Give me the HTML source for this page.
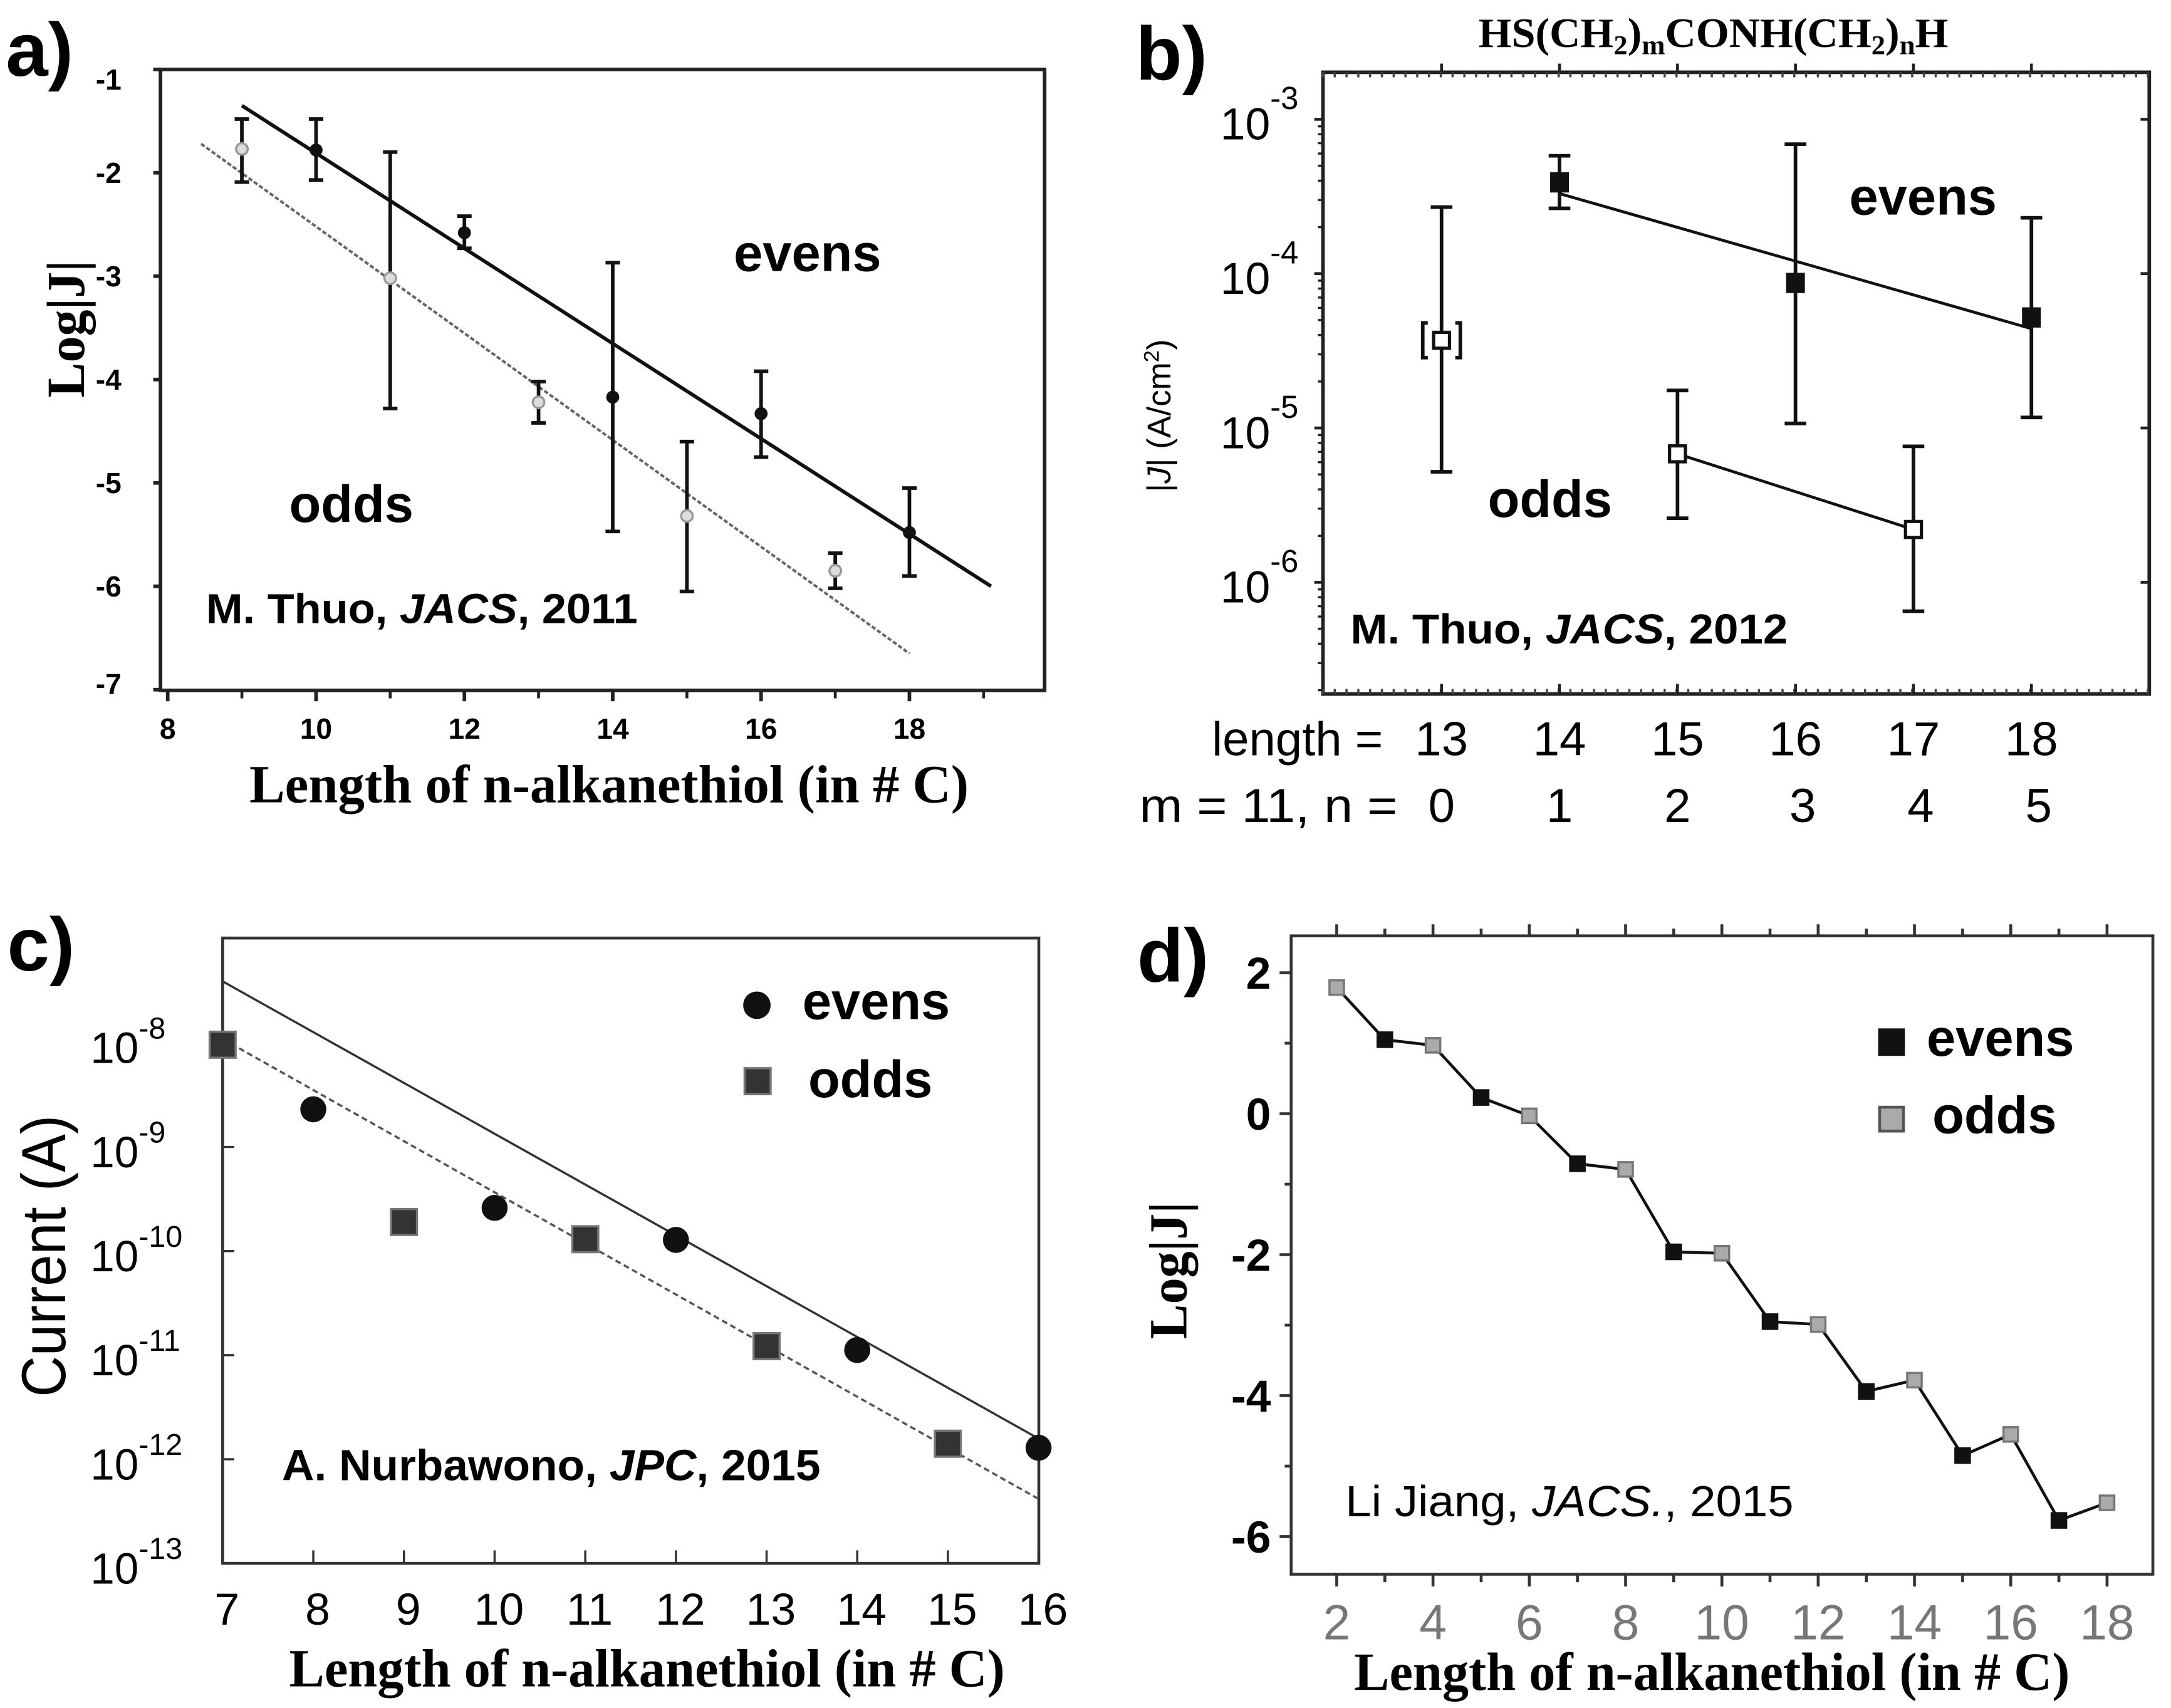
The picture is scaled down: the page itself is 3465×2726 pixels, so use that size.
<!DOCTYPE html>
<html><head><meta charset="utf-8">
<style>
html,body{margin:0;padding:0;background:#fff;}
svg{display:block;}
</style></head>
<body>
<svg id="fig" width="3465" height="2726" viewBox="0 0 3465 2726" xmlns="http://www.w3.org/2000/svg" font-family="Liberation Sans, sans-serif">
<rect x="0" y="0" width="3465" height="2726" fill="#fff"/>
<!-- Panel a -->
<g id="pa" transform="translate(0,0) scale(1.1538)">
  <text x="8" y="105" font-size="105" font-weight="bold">a)</text>
  <rect x="222" y="96" width="1223" height="859" fill="none" stroke="#222" stroke-width="5"/>
  <g id="pa-marks"></g>
  <text x="1015" y="375" font-size="72" font-weight="bold">evens</text>
  <text x="400" y="722" font-size="72" font-weight="bold">odds</text>
  <text x="285" y="862" font-size="58" font-weight="bold" textLength="597" lengthAdjust="spacingAndGlyphs">M. Thuo, <tspan font-style="italic">JACS</tspan>, 2011</text>
  <text transform="translate(116,455) rotate(-90)" text-anchor="middle" font-family="Liberation Serif, serif" font-weight="bold" font-size="74" textLength="190" lengthAdjust="spacingAndGlyphs">Log|J|</text>
  <text x="345" y="1110" font-family="Liberation Serif, serif" font-weight="bold" font-size="74" textLength="995" lengthAdjust="spacingAndGlyphs">Length of n-alkanethiol (in # C)</text>
</g>
<!-- Panel b -->
<g id="pb" transform="translate(1665,0) scale(1.1538)">
  <text x="128" y="110" font-size="105" font-weight="bold">b)</text>
  <text x="602" y="65" font-family="Liberation Serif, serif" font-weight="bold" font-size="58" textLength="650" lengthAdjust="spacingAndGlyphs">HS(CH<tspan font-size="38" dy="10">2</tspan><tspan dy="-10">)</tspan><tspan font-size="38" dy="10">m</tspan><tspan dy="-10">CONH(CH</tspan><tspan font-size="38" dy="10">2</tspan><tspan dy="-10">)</tspan><tspan font-size="38" dy="10">n</tspan><tspan dy="-10">H</tspan></text>
  <rect x="387" y="100" width="1143" height="860" fill="none" stroke="#222" stroke-width="5"/>
  <g id="pb-marks"></g>
  <text x="1115" y="297" font-size="72" font-weight="bold">evens</text>
  <text x="615" y="715" font-size="72" font-weight="bold">odds</text>
  <text x="425" y="890" font-size="58" font-weight="bold" textLength="605" lengthAdjust="spacingAndGlyphs">M. Thuo, <tspan font-style="italic">JACS</tspan>, 2012</text>
  <text transform="translate(176,575) rotate(-90)" text-anchor="middle" font-size="46">|<tspan font-style="italic">J</tspan>| (A/cm<tspan font-size="30" dy="-16">2</tspan><tspan dy="16">)</tspan></text>
  <text x="470" y="1045" text-anchor="end" font-size="66">length =</text>
  <text x="133" y="1137" font-size="66" textLength="357" lengthAdjust="spacingAndGlyphs">m = 11, n =</text>
</g>
<!-- Panel c -->
<g id="pc" transform="translate(0,926) scale(1.1538)">
  <text x="10" y="540" font-size="105" font-weight="bold">c)</text>
  <rect x="308" y="495" width="1129" height="865" fill="none" stroke="#333" stroke-width="4"/>
  <g id="pc-marks"></g>
  <circle cx="1047" cy="588" r="19" fill="#111"/>
  <text x="1110" y="607" font-size="72" font-weight="bold">evens</text>
  <rect x="1030" y="675" width="36" height="36" fill="#333" stroke="#777" stroke-width="3"/>
  <text x="1118" y="715" font-size="72" font-weight="bold">odds</text>
  <text x="390" y="1245" font-size="60" font-weight="bold" textLength="745" lengthAdjust="spacingAndGlyphs">A. Nurbawono, <tspan font-style="italic">JPC</tspan>, 2015</text>
  <text transform="translate(90,935) rotate(-90)" text-anchor="middle" font-size="86" textLength="390" lengthAdjust="spacingAndGlyphs">Current (A)</text>
  <text x="400" y="1530" font-family="Liberation Serif, serif" font-weight="bold" font-size="74" textLength="990" lengthAdjust="spacingAndGlyphs">Length of n-alkanethiol (in # C)</text>
</g>
<!-- Panel d -->
<g id="pd" transform="translate(1665,926) scale(1.1538)">
  <text x="130" y="555" font-size="105" font-weight="bold">d)</text>
  <rect x="343" y="492" width="1192" height="883" fill="none" stroke="#333" stroke-width="4"/>
  <g id="pd-marks"></g>
  <rect x="1155" y="620" width="37" height="38" fill="#111"/>
  <text x="1222" y="658" font-size="72" font-weight="bold">evens</text>
  <rect x="1157" y="729" width="33" height="33" fill="#aaa" stroke="#555" stroke-width="4"/>
  <text x="1230" y="765" font-size="72" font-weight="bold">odds</text>
  <text x="418" y="1295" font-size="60" textLength="620" lengthAdjust="spacingAndGlyphs">Li Jiang, <tspan font-style="italic">JACS.</tspan>, 2015</text>
  <text transform="translate(198,955) rotate(-90)" text-anchor="middle" font-family="Liberation Serif, serif" font-weight="bold" font-size="74" textLength="190" lengthAdjust="spacingAndGlyphs">Log|J|</text>
  <text x="430" y="1535" font-family="Liberation Serif, serif" font-weight="bold" font-size="74" textLength="990" lengthAdjust="spacingAndGlyphs">Length of n-alkanethiol (in # C)</text>
</g>
</svg>
<script>
// ---- Panel a data ----
const aXTicks=[8,10,12,14,16,18];
const aYTicks=[-1,-2,-3,-4,-5,-6,-7];
const aEvenX=[10,12,14,16,18];
const aEvenY=[-1.78,-2.58,-4.17,-4.33,-5.48];
const aEvenHi=[-1.48,-2.42,-2.87,-3.92,-5.05];
const aEvenLo=[-2.07,-2.73,-5.47,-4.75,-5.9];
const aOddX=[9,11,13,15,17];
const aOddY=[-1.77,-3.02,-4.22,-5.32,-5.85];
const aOddHi=[-1.48,-1.8,-4.02,-4.6,-5.68];
const aOddLo=[-2.09,-4.28,-4.42,-6.05,-6.02];
const aEvenFitX=[9,19.1];
const aEvenFitY=[-1.35,-6.0];
const aOddFitX=[8.45,18];
const aOddFitY=[-1.72,-6.65];
// ---- Panel b data ----
const bXTicks=[13,14,15,16,17,18];
const bNLabels=["0","1","2","3","4","5"];
const bYTicks=[-3,-4,-5,-6];
const bEvenX=[14,16,18];
const bEvenY=[3.9e-4,8.7e-5,5.2e-5];
const bEvenHi=[5.8e-4,6.9e-4,2.3e-4];
const bEvenLo=[2.65e-4,1.07e-5,1.17e-5];
const bOddX=[13,15,17];
const bOddY=[3.7e-5,6.8e-6,2.2e-6];
const bOddHi=[2.7e-4,1.75e-5,7.6e-6];
const bOddLo=[5.2e-6,2.6e-6,6.5e-7];
const bEvenFitX=[14,18];
const bEvenFitY=[3.3e-4,4.4e-5];
const bOddFitX=[15,17];
const bOddFitY=[6.8e-6,2.2e-6];
// ---- Panel c data ----
const cXTicks=[7,8,9,10,11,12,13,14,15,16];
const cYTicks=[-8,-9,-10,-11,-12,-13];
const cEvenX=[8,10,12,14,16];
const cEvenY=[2.3e-9,2.6e-10,1.28e-10,1.12e-11,1.29e-12];
const cOddX=[7,9,11,13,15];
const cOddY=[9.6e-9,1.9e-10,1.3e-10,1.22e-11,1.41e-12];
const cEvenFitX=[7,16];
const cEvenFitY=[3.9e-8,1.58e-12];
const cOddFitX=[7,16];
const cOddFitY=[1.09e-8,4.16e-13];
// ---- Panel d data ----
const dXTicks=[2,4,6,8,10,12,14,16,18];
const dYTicks=[2,0,-2,-4,-6];
const dX=[2,3,4,5,6,7,8,9,10,11,12,13,14,15,16,17,18];
const dY=[1.79,1.05,0.97,0.23,-0.03,-0.71,-0.79,-1.96,-1.98,-2.95,-2.99,-3.94,-3.78,-4.85,-4.55,-5.77,-5.52];

const NS="http://www.w3.org/2000/svg";
function mk(tag,parent,attrs){const e=document.createElementNS(NS,tag);for(const k in attrs)e.setAttribute(k,attrs[k]);parent.appendChild(e);return e;}

// ===== Panel a =====
(function(){
const g=document.getElementById('pa-marks');
const X=v=>232+(v-8)*102.6, Y=v=>96+(-1-v)*143;
aXTicks.forEach(t=>{
  const l=mk('line',g,{x1:X(t),x2:X(t),y1:955,y2:970,stroke:'#222','stroke-width':5});
  
  
  const s=mk('text',g,{x:X(t),y:1022,'text-anchor':'middle','font-size':40,'font-weight':'bold','font-family':'Liberation Sans Narrow, Liberation Sans, sans-serif'});
  s.textContent=String(t);
  
  
});
for(let t=9;t<=19;t+=2){const l=mk('line',g,{x1:X(t),x2:X(t),y1:955,y2:966,stroke:'#222','stroke-width':4});
  
  }
aYTicks.forEach(t=>{
  const l=mk('line',g,{x1:212,x2:222,y1:Y(t),y2:Y(t),stroke:'#222','stroke-width':5});
  
  
  const s=mk('text',g,{x:168,y:Y(t)+14+(t==-1?14:0)+(t==-7?-8:0),'text-anchor':'end','font-size':40,'font-weight':'bold','font-family':'Liberation Sans Narrow, Liberation Sans, sans-serif'});
  s.textContent=String(t);
  
  
});
const fe=mk('line',g,{x1:X(aEvenFitX[0]),y1:Y(aEvenFitY[0]),x2:X(aEvenFitX[1]),y2:Y(aEvenFitY[1]),stroke:'#111','stroke-width':5});


const fo=mk('line',g,{x1:X(aOddFitX[0]),y1:Y(aOddFitY[0]),x2:X(aOddFitX[1]),y2:Y(aOddFitY[1]),stroke:'#666','stroke-width':3.5,'stroke-dasharray':'6 3'});


function eb(x,hi,lo,name){
  const p=mk('path',g,{d:`M${X(x)},${Y(hi)}V${Y(lo)}M${X(x)-10},${Y(hi)}h20M${X(x)-10},${Y(lo)}h20`,stroke:'#111','stroke-width':5,fill:'none'});
  
  
}
aEvenX.forEach((x,i)=>{eb(x,aEvenHi[i],aEvenLo[i],'evens-errorbar-a');
  const c=mk('circle',g,{cx:X(x),cy:Y(aEvenY[i]),r:9,fill:'#111'});
  
  });
aOddX.forEach((x,i)=>{eb(x,aOddHi[i],aOddLo[i],'odds-errorbar-a');
  const c=mk('circle',g,{cx:X(x),cy:Y(aOddY[i]),r:8,fill:'#ddd',stroke:'#999','stroke-width':3});
  
  });
})();

// ===== Panel b =====
(function(){
const g=document.getElementById('pb-marks');
const X=v=>551+(v-13)*163.2, Y=v=>165+(-3-Math.log10(v))*213.5, YL=l=>165+(-3-l)*213.5;
for(let x=387;x<=1530;x+=16.3){[[960,953],[100,107]].forEach(([a,b])=>{const l=mk('line',g,{x1:x,x2:x,y1:a,y2:b,stroke:'#444','stroke-width':3});
  
  });}
bXTicks.forEach((t,i)=>{
  [[960,946],[100,88]].forEach(([a,b])=>{const l=mk('line',g,{x1:X(t),x2:X(t),y1:a,y2:b,stroke:'#222','stroke-width':4});
    
    });
  const s=mk('text',g,{x:X(t),y:1045,'text-anchor':'middle','font-size':66});
  s.textContent=String(t);
  
  
  const n=mk('text',g,{x:X(t)+(i>=3?10:0),y:1137,'text-anchor':'middle','font-size':66});
  n.textContent=bNLabels[i];
  
  
});
bYTicks.forEach(t=>{
  [[387,375],[1530,1518]].forEach(([a,b])=>{const l=mk('line',g,{x1:a,x2:b,y1:YL(t),y2:YL(t),stroke:'#222','stroke-width':4});
    
    });
  for(let m=2;m<=9;m++){const yy=YL(t-1+Math.log10(m));if(yy>960)continue;
    const l=mk('line',g,{x1:387,x2:380,y1:yy,y2:yy,stroke:'#222','stroke-width':3});
    
    }
  const s=mk('text',g,{x:245,y:YL(t)+28,'font-size':62});
  s.textContent='10';
  
  
  const sp=mk('tspan',s,{dy:-42,'font-size':44});
  sp.textContent=String(t);
});
const fe=mk('line',g,{x1:X(bEvenFitX[0]),y1:Y(bEvenFitY[0]),x2:X(bEvenFitX[1]),y2:Y(bEvenFitY[1]),stroke:'#111','stroke-width':4});


const fo=mk('line',g,{x1:X(bOddFitX[0]),y1:Y(bOddFitY[0]),x2:X(bOddFitX[1]),y2:Y(bOddFitY[1]),stroke:'#111','stroke-width':4});


function eb(x,hi,lo,name){
  const p=mk('path',g,{d:`M${X(x)},${Y(hi)}V${Y(lo)}M${X(x)-15},${Y(hi)}h30M${X(x)-15},${Y(lo)}h30`,stroke:'#111','stroke-width':5,fill:'none'});
  
  
}
bEvenX.forEach((x,i)=>{eb(x,bEvenHi[i],bEvenLo[i],'evens-errorbar-b');
  const r=mk('rect',g,{x:X(x)-13,y:Y(bEvenY[i])-14,width:26,height:28,fill:'#111'});
  
  });
bOddX.forEach((x,i)=>{eb(x,bOddHi[i],bOddLo[i],'odds-errorbar-b');
  const r=mk('rect',g,{x:X(x)-11,y:Y(bOddY[i])-11,width:22,height:22,fill:'#fff',stroke:'#111','stroke-width':4.5});
  
  
  if(i===0){const b=mk('path',g,{d:`M${X(x)-19},${Y(bOddY[i])-24}h-7v48h7M${X(x)+19},${Y(bOddY[i])-24}h7v48h-7`,stroke:'#111','stroke-width':5,fill:'none'});
    
    }
});
})();

// ===== Panel c =====
(function(){
const g=document.getElementById('pc-marks');
const X=v=>308+(v-7)*125.4, Y=v=>640+(-8-Math.log10(v))*144, YL=l=>640+(-8-l)*144;
cXTicks.forEach(t=>{
  const l=mk('line',g,{x1:X(t),x2:X(t),y1:1360,y2:1342,stroke:'#333','stroke-width':3});
  
  
  const s=mk('text',g,{x:X(t)+6,y:1445,'text-anchor':'middle','font-size':62});
  s.textContent=String(t);
  
  
});
cYTicks.forEach(t=>{
  const l=mk('line',g,{x1:308,x2:324,y1:YL(t),y2:YL(t),stroke:'#333','stroke-width':3});
  
  
  const s=mk('text',g,{x:125,y:YL(t)+28,'font-size':60});
  s.textContent='10';
  
  
  const sp=mk('tspan',s,{dy:-34,'font-size':42});
  sp.textContent=String(t);
});
const fe=mk('line',g,{x1:X(cEvenFitX[0]),y1:Y(cEvenFitY[0]),x2:X(cEvenFitX[1]),y2:Y(cEvenFitY[1]),stroke:'#333','stroke-width':3});


const fo=mk('line',g,{x1:X(cOddFitX[0]),y1:Y(cOddFitY[0]),x2:X(cOddFitX[1]),y2:Y(cOddFitY[1]),stroke:'#555','stroke-width':3,'stroke-dasharray':'8 5'});


cEvenX.forEach((x,i)=>{
  const c=mk('circle',g,{cx:X(x),cy:Y(cEvenY[i]),r:18,fill:'#111'});
  
  });
cOddX.forEach((x,i)=>{
  const r=mk('rect',g,{x:X(x)-18,y:Y(cOddY[i])-18,width:36,height:36,fill:'#333',stroke:'#777','stroke-width':3});
  
  });
})();

// ===== Panel d =====
(function(){
const g=document.getElementById('pd-marks');
const X=v=>406+(v-2)*66.6, Y=v=>738-v*97.5;
for(let t=1;t<=19;t++){const big=t%2===0;
  if(X(t)<343||X(t)>1535)continue;
  [[1375,big?1392:1386],[492,big?476:482]].forEach(([a,b])=>{const l=mk('line',g,{x1:X(t),x2:X(t),y1:a,y2:b,stroke:'#333','stroke-width':4});
    
    });}
dXTicks.forEach(t=>{
  const s=mk('text',g,{x:X(t),y:1465,'text-anchor':'middle','font-size':68,'fill':'#777'});
  s.textContent=String(t);
  
  
});
for(let t=-6;t<=2;t++){const big=t%2===0;
  const l=mk('line',g,{x1:343,x2:big?327:334,y1:Y(t),y2:Y(t),stroke:'#333','stroke-width':4});
  
  }
dYTicks.forEach(t=>{
  const s=mk('text',g,{x:315,y:Y(t)+22,'text-anchor':'end','font-size':62,'font-weight':'bold'});
  s.textContent=t<0?'-'+Math.abs(t):String(t);
  
  
});
const pts=dX.map((x,i)=>X(x)+','+Y(dY[i])).join(' ');
const pl=mk('polyline',g,{points:pts,fill:'none',stroke:'#111','stroke-width':4});


dX.forEach((x,i)=>{const blk=x%2===1;
  const r=mk('rect',g,{x:X(x)-10,y:Y(dY[i])-10,width:20,height:20,fill:blk?'#111':'#aaa',stroke:blk?'#111':'#777','stroke-width':3});
  
  });
})();
</script>
</body></html>
